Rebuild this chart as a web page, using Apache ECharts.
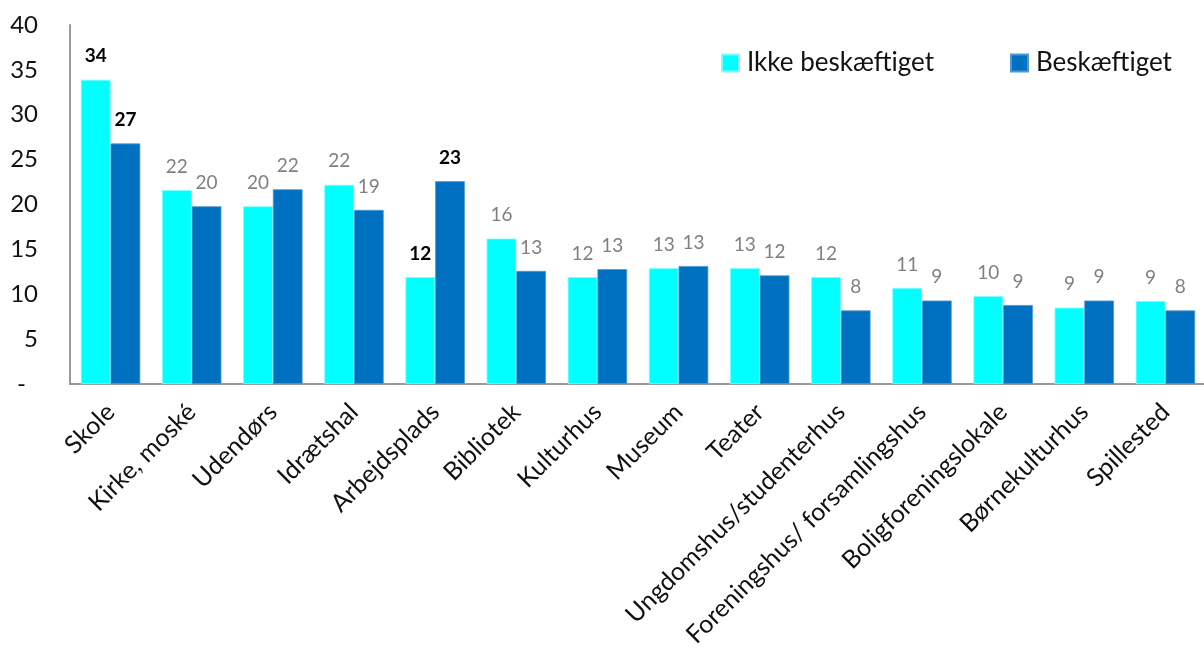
<!DOCTYPE html>
<html>
<head>
<meta charset="utf-8">
<script src="https://cdn.jsdelivr.net/npm/echarts@6/dist/echarts.min.js"></script>
<style>
html,body{margin:0;padding:0;background:#fff;}
#chart{width:1204px;height:648px;}
</style>
</head>
<body>
<div id="chart"></div>
<script>
const categories = ['Skole','Kirke, moské','Udendørs','Idrætshal','Arbejdsplads','Bibliotek','Kulturhus','Museum','Teater','Ungdomshus/studenterhus','Foreningshus/ forsamlingshus','Boligforeningslokale','Børnekulturhus','Spillested'];
const seriesNames = ['Ikke beskæftiget','Beskæftiget'];
const ikkeBeskaeftiget = [33.9, 21.6, 19.8, 22.2, 11.9, 16.2, 11.9, 12.9, 12.9, 11.9, 10.7, 9.8, 8.5, 9.25];
const beskaeftiget = [26.8, 19.8, 21.7, 19.4, 22.6, 12.6, 12.8, 13.15, 12.1, 8.2, 9.3, 8.8, 9.3, 8.2];
const highlighted = ['Skole','Arbejdsplads'];
const yMin = 0, yMax = 40, yStep = 5;

const FONT = 'Lato';
const AXIS_COLOR = '#9a9a9a';

function makeData(values) {
  return values.map((v, i) => {
    const bold = highlighted.indexOf(categories[i]) >= 0;
    return {
      value: v,
      label: bold ? { color: '#000', fontWeight: 'bold' } : { color: '#808080', fontWeight: 'normal' }
    };
  });
}

const labelCommon = {
  show: true,
  position: 'top',
  distance: 14,
  fontFamily: FONT,
  fontSize: 19,
  formatter: p => String(Math.round(p.value))
};

const chart = echarts.init(document.getElementById('chart'), null, {renderer: 'canvas'});
chart.setOption({
  animation: false,
  backgroundColor: '#fff',
  grid: { left: 70, top: 25, width: 1136, bottom: 264, containLabel: false, outerBoundsMode: 'none' },
  legend: {
    data: seriesNames,
    left: 721, top: 50,
    padding: 0,
    icon: 'rect',
    itemWidth: 17, itemHeight: 17,
    itemGap: 76,
    textStyle: { fontFamily: FONT, fontSize: 26, color: '#111', padding: [0,0,0,3] }
  },
  xAxis: {
    type: 'category',
    data: categories,
    axisLine: { show: true, lineStyle: { color: AXIS_COLOR, width: 2 } },
    axisTick: { show: false },
    axisLabel: { rotate: 45, margin: 24, interval: 0, fontFamily: FONT, fontSize: 25, color: '#111' }
  },
  yAxis: {
    type: 'value',
    min: yMin, max: yMax, interval: yStep,
    axisLine: { show: true, lineStyle: { color: AXIS_COLOR, width: 2 } },
    axisTick: { show: false },
    splitLine: { show: false },
    axisLabel: {
      margin: 32, fontFamily: FONT, fontSize: 24, color: '#111',
      formatter: v => v === 0 ? '{d|-}' : String(v),
      rich: { d: { fontFamily: FONT, fontSize: 24, color: '#111', padding: [0, 12, 0, 0] } }
    }
  },
  series: [
    {
      name: seriesNames[0], type: 'bar',
      data: makeData(ikkeBeskaeftiget),
      barGap: '0%', barCategoryGap: '26.8%',
      itemStyle: { color: '#00FFFF', borderColor: '#7ffcff', borderWidth: 0.8 },
      label: labelCommon
    },
    {
      name: seriesNames[1], type: 'bar',
      data: makeData(beskaeftiget),
      barGap: '0%', barCategoryGap: '26.8%',
      itemStyle: { color: '#0070C0', borderColor: '#4f97d6', borderWidth: 0.8 },
      label: labelCommon
    }
  ]
});
</script>
</body>
</html>
